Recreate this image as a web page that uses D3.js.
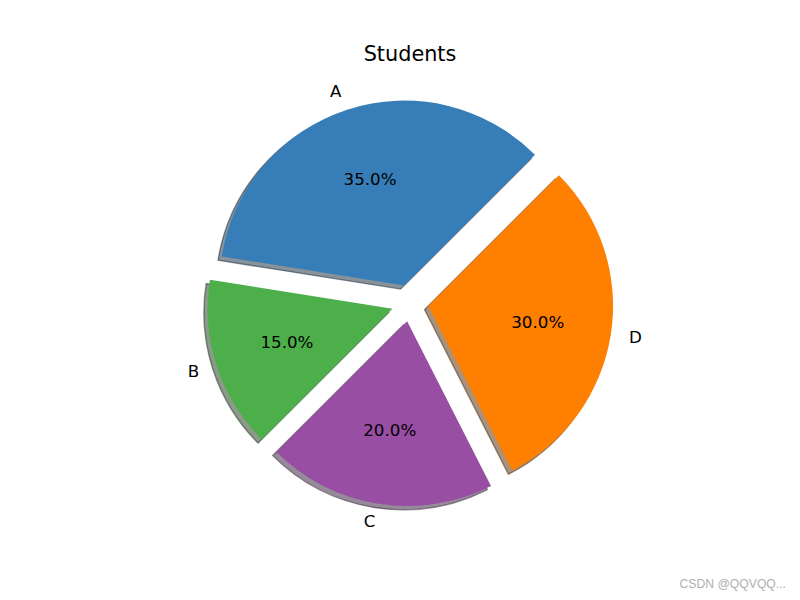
<!DOCTYPE html>
<html>
<head>
<meta charset="utf-8">
<script src="https://cdn.jsdelivr.net/npm/d3@7"></script>
<style>
  body { margin: 0; background: #fff; }
  svg { display: block; font-family: "DejaVu Sans", sans-serif; }
</style>
</head>
<body>
<svg id="chart" width="800" height="600"></svg>
<script>
const categories = ["A", "B", "C", "D"];
const values = [35, 15, 20, 30];
const colors = ["#377eb8", "#4daf4a", "#984ea3", "#ff7f00"];
const explode = [0.1, 0.1, 0.1, 0.1];
const title = "Students";
const watermark = "CSDN @QQVQQ...";

const svg = d3.select("#chart");
// axes area (matplotlib default subplot)
const axTop = 72, axBottom = 534, axLeft = 100, axRight = 720;
const cx = (axLeft + axRight) / 2, cy = (axTop + axBottom) / 2;
const half = (axBottom - axTop) / 2;
const x = d3.scaleLinear().domain([-1.25, 1.25]).range([cx - half, cx + half]);
const y = d3.scaleLinear().domain([-1.25, 1.25]).range([cy + half, cy - half]);
const R = x(1) - x(0);

// matplotlib startangle=45, counterclockwise
const start = Math.PI / 2 - Math.PI / 4;
const pie = d3.pie().sort(null).value(d => d).startAngle(start).endAngle(start - 2 * Math.PI);
const arcs = pie(values);
const arc = d3.arc().innerRadius(0).outerRadius(R);

function geom(d, i) {
  const a = (d.startAngle + d.endAngle) / 2;
  const ux = Math.sin(a), uy = Math.cos(a);
  return { ux, uy, ox: explode[i] * ux, oy: explode[i] * uy };
}

const g = svg.append("g");

// shadows
arcs.forEach((d, i) => {
  const p = geom(d, i);
  const c = d3.rgb(colors[i]);
  const sc = d3.rgb(c.r * 0.3, c.g * 0.3, c.b * 0.3);
  g.append("path")
    .attr("d", arc(d))
    .attr("transform", `translate(${x(p.ox - 0.02)},${y(p.oy - 0.02)})`)
    .attr("fill", sc)
    .attr("fill-opacity", 0.5)
    .attr("stroke", sc)
    .attr("stroke-opacity", 0.5)
    .attr("stroke-width", 1.4)
    .attr("stroke-linejoin", "miter");
});

// wedges
arcs.forEach((d, i) => {
  const p = geom(d, i);
  g.append("path")
    .attr("d", arc(d))
    .attr("transform", `translate(${x(p.ox)},${y(p.oy)})`)
    .attr("fill", colors[i]);
});

// labels and percentages
const total = d3.sum(values);
arcs.forEach((d, i) => {
  const p = geom(d, i);
  const lx = p.ox + 1.1 * p.ux, ly = p.oy + 1.1 * p.uy;
  svg.append("text")
    .attr("x", x(lx)).attr("y", y(ly)).attr("dy", "0.3em")
    .attr("text-anchor", lx > 0 ? "start" : "end")
    .attr("font-size", 16.7)
    .text(categories[i]);
  const px = p.ox + 0.6 * p.ux, py = p.oy + 0.6 * p.uy;
  svg.append("text")
    .attr("x", x(px)).attr("y", y(py)).attr("dy", "0.3em")
    .attr("text-anchor", "middle")
    .attr("font-size", 16.7)
    .text((values[i] / total * 100).toFixed(1) + "%");
});

svg.append("text")
  .attr("x", cx).attr("y", 61)
  .attr("text-anchor", "middle")
  .attr("font-size", 20.8)
  .text(title);

svg.append("text")
  .attr("x", 786).attr("y", 588)
  .attr("text-anchor", "end")
  .attr("font-family", "Liberation Sans, Arial, sans-serif")
  .attr("font-size", 12.2)
  .attr("fill", "#b0b0b0")
  .text(watermark);
</script>
</body>
</html>
